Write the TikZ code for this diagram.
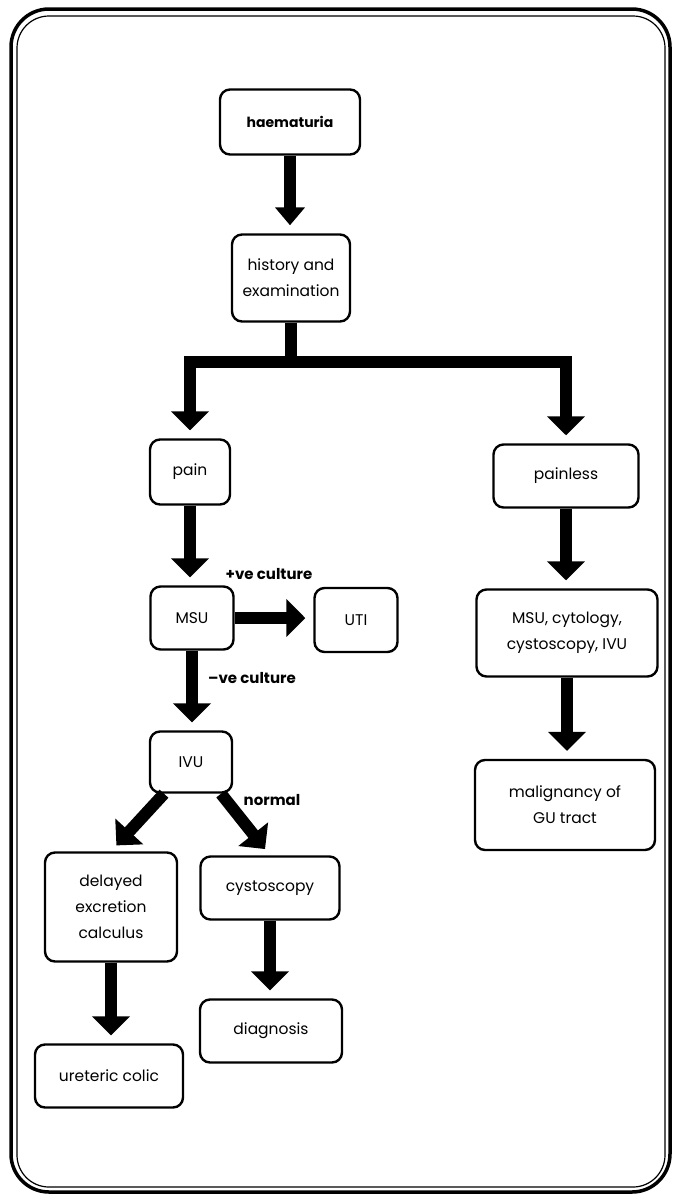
\documentclass[tikz,border=0pt]{standalone}
\usepackage{fontspec}
\setmainfont{Poppins}
\usetikzlibrary{arrows.meta}
\begin{document}
\begin{tikzpicture}[x=1pt,y=-1pt,
  box/.style={draw, line width=2.4pt, rounded corners=10pt, align=center,
    inner sep=2pt, font=\fontsize{15.5}{26}\selectfont},
  arr/.style={line width=12pt, -{Triangle[width=37pt,length=19pt]}, shorten >=8pt},
  lbl/.style={font=\bfseries\fontsize{15}{18}\selectfont, inner sep=0pt}]
\useasboundingbox (0,0) rectangle (680,1200);

% double frame
\draw[line width=3.5pt, rounded corners=38pt] (11,9) rectangle (670,1192);
\draw[line width=1.2pt, rounded corners=32pt] (17,16) rectangle (665,1187);

% boxes
\node[box, minimum width=140pt, minimum height=65pt, font=\bfseries\fontsize{14}{17}\selectfont] (haem) at (290,122) {haematuria};
\node[box, minimum width=118pt, minimum height=87pt] (hist) at (291,278) {history and\\examination};
\node[box, minimum width=80pt, minimum height=65pt] (pain) at (190,472) {pain};
\node[box, minimum width=145pt, minimum height=63pt] (painless) at (566,476) {painless};
\node[box, minimum width=83pt, minimum height=63pt] (msu) at (192,618) {MSU};
\node[box, minimum width=83pt, minimum height=64pt] (uti) at (356,620) {UTI};
\node[box, minimum width=82pt, minimum height=61pt] (ivu) at (191,762) {IVU};
\node[box, minimum width=132pt, minimum height=109pt] (delayed) at (111,907) {delayed\\excretion\\calculus};
\node[box, minimum width=139pt, minimum height=63pt] (cysto) at (270,888) {cystoscopy};
\node[box, minimum width=142pt, minimum height=63pt] (diag) at (271,1031) {diagnosis};
\node[box, minimum width=148pt, minimum height=63pt] (colic) at (109,1076) {ureteric colic};
\node[box, minimum width=181pt, minimum height=87pt] (tests) at (567,633) {MSU, cytology,\\cystoscopy, IVU};
\node[box, minimum width=180pt, minimum height=90pt] (malig) at (565,805) {malignancy of\\GU tract};

% connectors
\coordinate (fork) at (291,362);
\draw[arr, -{Triangle[width=29pt,length=18pt]}] (haem.south) -- (haem.south |- hist.north);
\draw[arr] (hist.south) -- (fork) -| (pain.north);
\draw[arr] (fork) -| (painless.north);
\draw[arr] (pain.south) -- (pain.south |- msu.north);
\draw[arr] (msu.east) -- (msu.east -| uti.west);
\draw[arr] (msu.south) -- (msu.south |- ivu.north);
\draw[arr] ([xshift=-27pt]ivu.south) -- (delayed.north);
\draw[arr] ([xshift=30pt]ivu.south) -- (cysto.north);
\draw[arr] (cysto.south) -- (cysto.south |- diag.north);
\draw[arr] (delayed.south) -- (delayed.south |- colic.north);
\draw[arr] (painless.south) -- (painless.south |- tests.north);
\draw[arr] (tests.south) -- (tests.south |- malig.north);

% branch labels
\node[lbl] (pos) at (269,574) {+ve culture};
\node[lbl] (neg) at (252,678) {–ve culture};
\node[lbl] (norm) at (272,800) {normal};
\end{tikzpicture}
\end{document}
